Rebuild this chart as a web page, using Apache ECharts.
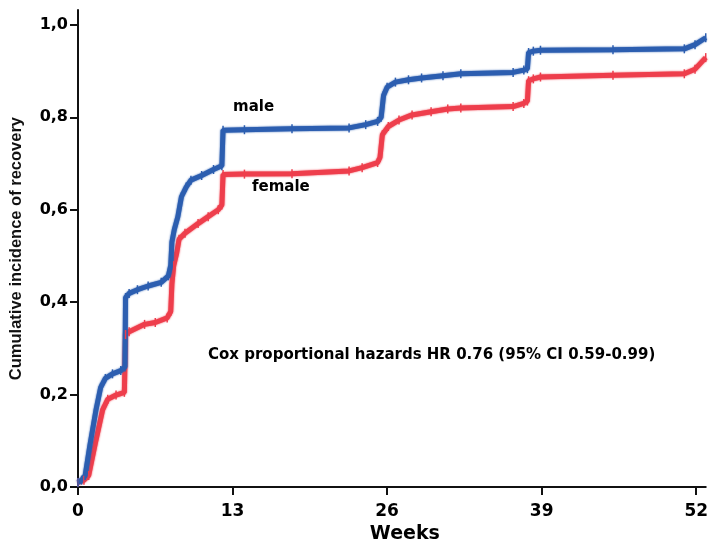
<!DOCTYPE html>
<html>
<head>
<meta charset="utf-8">
<script src="https://cdn.jsdelivr.net/npm/echarts@6/dist/echarts.min.js"></script>
<style>
html,body{margin:0;padding:0;background:#fff;}
#chart{width:711px;height:549px;}
</style>
</head>
<body>
<div id="chart"></div>
<script>
// Weeks / cumulative incidence
var maleWeeks = [0,0.3,0.6,1.0,1.5,1.9,2.3,2.9,3.6,3.95,4.0,4.3,5.0,5.9,7.0,7.6,7.8,7.9,8.1,8.4,8.7,9.1,9.5,10.4,11.4,12.1,12.2,14,18,22.8,24.2,25.2,25.5,25.7,26,26.7,27.8,28.9,30.7,32.2,36.6,37.5,37.8,37.9,38.3,38.9,45,51,51.9,52.8];
var maleValues = [0.01,0.015,0.025,0.09,0.165,0.215,0.235,0.245,0.252,0.26,0.41,0.419,0.427,0.435,0.443,0.457,0.48,0.53,0.557,0.585,0.628,0.649,0.664,0.674,0.687,0.695,0.772,0.773,0.775,0.777,0.784,0.791,0.80,0.847,0.865,0.876,0.881,0.885,0.89,0.894,0.897,0.902,0.905,0.94,0.943,0.945,0.946,0.948,0.957,0.972];
var femaleWeeks = [0,0.5,0.9,1.5,2.07,2.5,3.2,3.9,4.0,4.3,5.6,6.5,7.5,7.8,7.9,8.05,8.3,8.5,9.0,10.1,10.95,11.8,12.1,12.2,14,18,22.8,23.9,25.2,25.4,25.6,26.1,27,28.1,29.7,31.1,32.2,36.6,37.5,37.8,37.9,38.3,38.9,45,51,51.9,52.8];
var femaleValues = [0.01,0.015,0.025,0.1,0.167,0.19,0.199,0.205,0.33,0.336,0.352,0.356,0.366,0.38,0.44,0.479,0.506,0.536,0.549,0.57,0.585,0.6,0.61,0.676,0.677,0.678,0.684,0.691,0.702,0.713,0.762,0.78,0.794,0.805,0.812,0.818,0.82,0.823,0.83,0.835,0.879,0.883,0.887,0.891,0.894,0.904,0.929];
var xTicks = [0,13,26,39,52];
var yTicks = [0,0.2,0.4,0.6,0.8,1.0];
var seriesNames = ['male','female'];
var annotation = 'Cox proportional hazards HR 0.76 (95% CI 0.59-0.99)';

function pairs(xs, ys){ return xs.map(function(x,i){ return [x, ys[i]]; }); }

var chart = echarts.init(document.getElementById('chart'), null, {renderer:'canvas'});
var boldFont = '"DejaVu Sans", sans-serif';
var titleFont = '"Liberation Sans", Arial, sans-serif';
var lineSeries = function(name, xs, ys, color){
  return {
    name: name, type: 'line', data: pairs(xs, ys),
    showSymbol: true, symbol: 'rect', symbolSize: [1.5, 9],
    itemStyle: {color: color},
    lineStyle: {color: color, width: 5, shadowColor: color, shadowBlur: 2},
    animation: false, silent: true
  };
};
chart.setOption({
  animation: false,
  backgroundColor: '#ffffff',
  grid: {left: 75, right: 0, top: 10, bottom: 55},
  xAxis: {
    type: 'value', min: 0, max: 52.8, interval: 13,
    name: 'Weeks', nameLocation: 'middle', nameGap: 37,
    nameTextStyle: {fontFamily: boldFont, fontWeight: 'bold', fontSize: 19, color: '#000', padding: [0,0,0,26]},
    axisLine: {show: true, lineStyle: {color: '#111', width: 2}},
    axisTick: {show: true, length: 8, lineStyle: {color: '#111', width: 2}, customValues: xTicks},
    axisLabel: {customValues: xTicks, margin: 16, fontFamily: boldFont, fontWeight: 'bold', fontSize: 17, color: '#000'},
    splitLine: {show: false}
  },
  yAxis: {
    type: 'value', min: 0, max: 1.032, interval: 0.2,
    name: 'Cumulative incidence of recovery', nameLocation: 'middle', nameRotate: 90, nameGap: 53,
    nameTextStyle: {fontFamily: titleFont, fontWeight: 'bold', fontSize: 16.5, color: '#111'},
    axisLine: {show: true, lineStyle: {color: '#111', width: 2}},
    axisTick: {show: true, length: 8, lineStyle: {color: '#111', width: 2}, customValues: yTicks},
    axisLabel: {customValues: yTicks, margin: 10, fontFamily: boldFont, fontWeight: 'bold', fontSize: 16, color: '#000',
      formatter: function(v){ return v.toFixed(1).replace('.', ','); }},
    splitLine: {show: false}
  },
  series: [
    lineSeries(seriesNames[1], femaleWeeks, femaleValues, '#ee3e4c'),
    lineSeries(seriesNames[0], maleWeeks, maleValues, '#2c5eb0')
  ],
  graphic: [
    {type: 'text', x: 233, y: 107, style: {text: seriesNames[0], font: 'bold 15px ' + boldFont, fill: '#000', align: 'left', verticalAlign: 'middle'}},
    {type: 'text', x: 252, y: 187, style: {text: seriesNames[1], font: 'bold 15px ' + boldFont, fill: '#000', align: 'left', verticalAlign: 'middle'}},
    {type: 'text', x: 208, y: 355, style: {text: annotation, font: 'bold 15px ' + boldFont, fill: '#000', align: 'left', verticalAlign: 'middle'}}
  ]
});
</script>
</body>
</html>
